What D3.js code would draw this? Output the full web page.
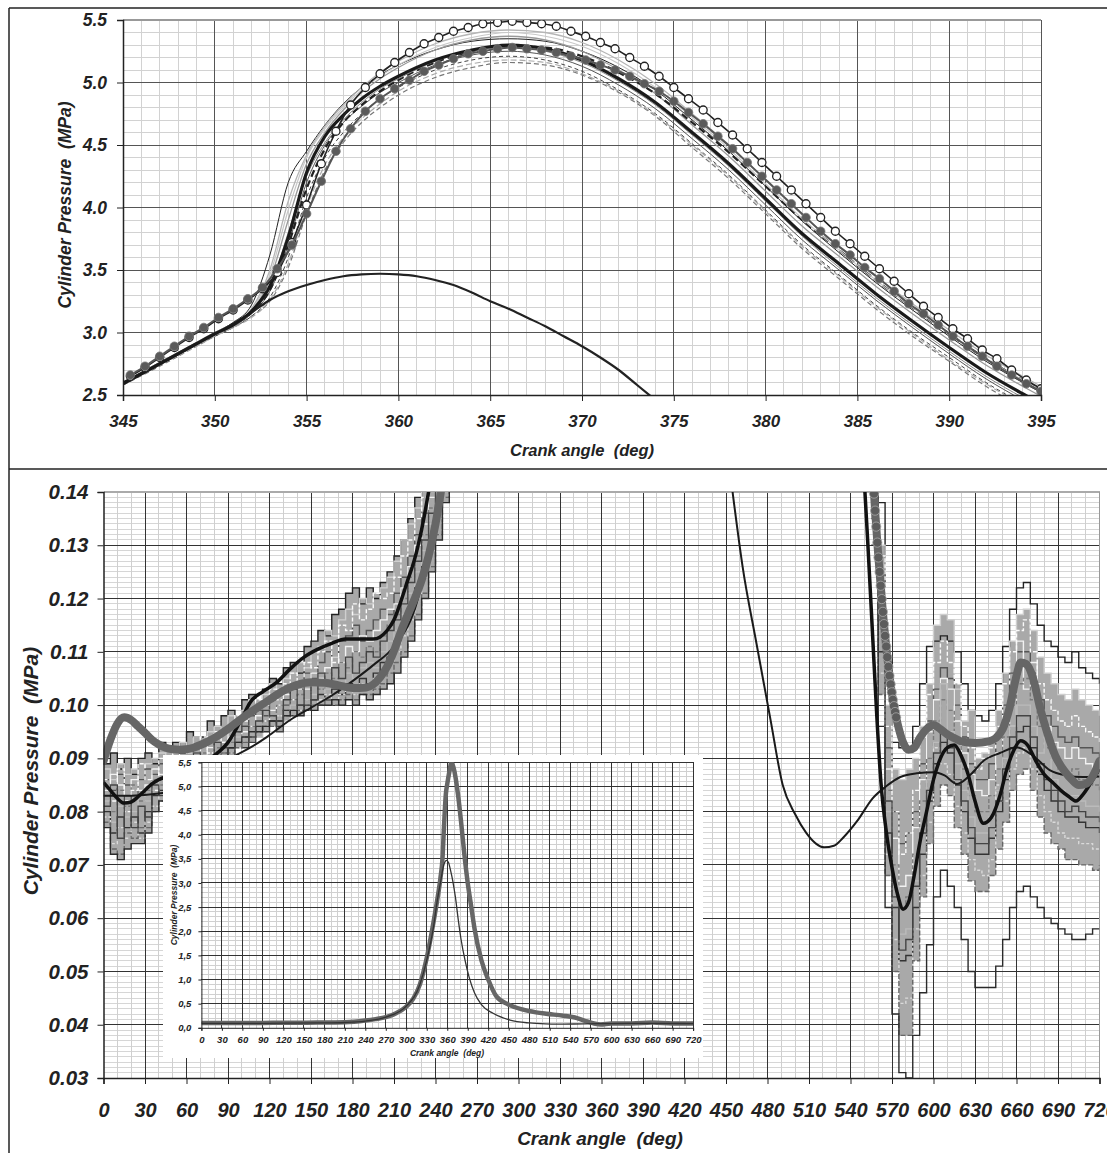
<!DOCTYPE html>
<html>
<head>
<meta charset="utf-8">
<script src="https://cdn.jsdelivr.net/npm/d3@7"></script>
<style>
  body { margin: 0; background: #fff; }
  svg text { font-family: "Liberation Sans", Arial, sans-serif; font-weight: bold; font-style: italic; fill: #222; white-space: pre; }
</style>
</head>
<body>
<svg id="chart" width="1107" height="1153"></svg>
<script>
// ---------- tick labels ----------
const topXTicks = [345, 350, 355, 360, 365, 370, 375, 380, 385, 390, 395];
const topYTicks = [2.5, 3.0, 3.5, 4.0, 4.5, 5.0, 5.5];
const lowXTicks = [0, 30, 60, 90, 120, 150, 180, 210, 240, 270, 300, 330, 360, 390, 420, 450, 480, 510, 540, 570, 600, 630, 660, 690, 720];
const lowYTicks = [0.03, 0.04, 0.05, 0.06, 0.07, 0.08, 0.09, 0.10, 0.11, 0.12, 0.13, 0.14];
const insetYTicks = [0, 0.5, 1.0, 1.5, 2.0, 2.5, 3.0, 3.5, 4.0, 4.5, 5.0, 5.5];

// ---------- top chart: combustion zoom (MPa) ----------
const topAngles = [345, 347, 349, 350, 351, 352, 353, 354, 355, 356, 357, 358, 359, 360, 362, 364, 366, 368, 370, 372, 374, 376, 378, 380, 382, 384, 386, 388, 390, 392, 394, 395];
const topMean = [2.59, 2.75, 2.91, 2.99, 3.06, 3.17, 3.37, 3.76, 4.28, 4.57, 4.74, 4.87, 4.97, 5.05, 5.18, 5.26, 5.30, 5.27, 5.18, 5.03, 4.84, 4.60, 4.35, 4.07, 3.79, 3.55, 3.31, 3.09, 2.88, 2.68, 2.51, 2.43];
const topCycles = [
  [2.60, 2.76, 2.92, 3.00, 3.08, 3.22, 3.62, 4.20, 4.45, 4.66, 4.83, 4.96, 5.06, 5.14, 5.26, 5.33, 5.35, 5.33, 5.25, 5.12, 4.94, 4.70, 4.45, 4.17, 3.89, 3.64, 3.40, 3.18, 2.97, 2.77, 2.60, 2.52],
  [2.60, 2.76, 2.92, 3.00, 3.07, 3.19, 3.50, 4.05, 4.42, 4.65, 4.82, 4.96, 5.08, 5.17, 5.31, 5.39, 5.42, 5.40, 5.32, 5.18, 4.99, 4.75, 4.50, 4.22, 3.94, 3.69, 3.45, 3.23, 3.02, 2.82, 2.65, 2.57],
  [2.58, 2.73, 2.89, 2.97, 3.04, 3.13, 3.25, 3.52, 3.95, 4.30, 4.52, 4.68, 4.80, 4.90, 5.04, 5.12, 5.16, 5.14, 5.06, 4.92, 4.73, 4.48, 4.23, 3.95, 3.67, 3.43, 3.19, 2.97, 2.77, 2.57, 2.40, 2.32],
  [2.59, 2.74, 2.90, 2.98, 3.05, 3.15, 3.33, 3.70, 4.20, 4.50, 4.68, 4.81, 4.92, 5.00, 5.14, 5.22, 5.25, 5.22, 5.13, 4.98, 4.79, 4.55, 4.30, 4.02, 3.74, 3.50, 3.26, 3.04, 2.83, 2.63, 2.46, 2.38],
  [2.60, 2.76, 2.91, 2.99, 3.06, 3.17, 3.42, 3.90, 4.35, 4.60, 4.78, 4.92, 5.03, 5.12, 5.26, 5.34, 5.37, 5.34, 5.25, 5.10, 4.91, 4.66, 4.41, 4.13, 3.85, 3.61, 3.37, 3.15, 2.94, 2.74, 2.57, 2.49],
  [2.58, 2.74, 2.90, 2.97, 3.04, 3.13, 3.28, 3.60, 4.08, 4.40, 4.60, 4.75, 4.87, 4.96, 5.10, 5.18, 5.21, 5.18, 5.09, 4.94, 4.75, 4.51, 4.26, 3.98, 3.70, 3.46, 3.22, 3.00, 2.80, 2.60, 2.43, 2.35],
  [2.59, 2.75, 2.91, 2.99, 3.06, 3.16, 3.34, 3.70, 4.15, 4.47, 4.68, 4.82, 4.93, 5.02, 5.16, 5.25, 5.29, 5.28, 5.21, 5.08, 4.91, 4.68, 4.44, 4.17, 3.90, 3.66, 3.42, 3.20, 2.99, 2.79, 2.62, 2.54],
  [2.60, 2.76, 2.92, 3.00, 3.07, 3.18, 3.46, 3.98, 4.40, 4.63, 4.80, 4.94, 5.05, 5.14, 5.28, 5.36, 5.40, 5.37, 5.29, 5.15, 4.96, 4.72, 4.47, 4.19, 3.91, 3.66, 3.42, 3.20, 2.99, 2.79, 2.62, 2.54],
  [2.59, 2.75, 2.90, 2.98, 3.05, 3.16, 3.36, 3.80, 4.25, 4.52, 4.70, 4.84, 4.95, 5.03, 5.17, 5.25, 5.28, 5.25, 5.16, 5.01, 4.82, 4.58, 4.33, 4.05, 3.77, 3.52, 3.28, 3.06, 2.85, 2.65, 2.48, 2.40],
  [2.58, 2.74, 2.89, 2.97, 3.04, 3.12, 3.26, 3.55, 4.00, 4.34, 4.56, 4.71, 4.83, 4.93, 5.07, 5.15, 5.18, 5.16, 5.07, 4.93, 4.74, 4.50, 4.25, 3.97, 3.69, 3.45, 3.21, 2.99, 2.78, 2.59, 2.42, 2.34]
];
const topMotorAngles = [345, 347, 349, 351, 352, 353, 354, 355, 356, 357, 358, 359, 360, 361, 362, 363, 364, 365, 366, 367, 368, 369, 370, 371, 372, 373, 374];
const topMotor = [2.60, 2.75, 2.91, 3.07, 3.16, 3.26, 3.33, 3.38, 3.42, 3.45, 3.465, 3.47, 3.465, 3.45, 3.42, 3.38, 3.32, 3.25, 3.19, 3.12, 3.05, 2.97, 2.89, 2.80, 2.70, 2.58, 2.46];
const markerAngles = [345.4, 346.2, 347, 347.8, 348.6, 349.4, 350.2, 351, 351.8, 352.6, 353.4, 354.2, 355, 355.8, 356.6, 357.4, 358.2, 359, 359.8, 360.6, 361.4, 362.2, 363, 363.8, 364.6, 365.4, 366.2, 367, 367.8, 368.6, 369.4, 370.2, 371, 371.8, 372.6, 373.4, 374.2, 375, 375.8, 376.6, 377.4, 378.2, 379, 379.8, 380.6, 381.4, 382.2, 383, 383.8, 384.6, 385.4, 386.2, 387, 387.8, 388.6, 389.4, 390.2, 391, 391.8, 392.6, 393.4, 394.2, 395];
const openP = [2.65, 2.72, 2.80, 2.88, 2.96, 3.03, 3.11, 3.18, 3.26, 3.35, 3.48, 3.72, 4.02, 4.35, 4.61, 4.82, 4.96, 5.07, 5.16, 5.24, 5.31, 5.36, 5.41, 5.44, 5.47, 5.48, 5.49, 5.48, 5.47, 5.45, 5.41, 5.37, 5.32, 5.27, 5.20, 5.13, 5.05, 4.96, 4.87, 4.78, 4.68, 4.58, 4.47, 4.36, 4.25, 4.14, 4.03, 3.92, 3.81, 3.71, 3.61, 3.51, 3.41, 3.31, 3.21, 3.12, 3.03, 2.95, 2.86, 2.79, 2.70, 2.62, 2.55];
const grayP = [2.66, 2.73, 2.81, 2.89, 2.97, 3.04, 3.12, 3.19, 3.27, 3.36, 3.51, 3.70, 3.95, 4.21, 4.45, 4.63, 4.77, 4.87, 4.95, 5.02, 5.09, 5.14, 5.19, 5.23, 5.25, 5.27, 5.28, 5.27, 5.26, 5.24, 5.21, 5.18, 5.14, 5.10, 5.05, 4.99, 4.93, 4.85, 4.76, 4.67, 4.57, 4.47, 4.36, 4.25, 4.14, 4.03, 3.92, 3.81, 3.71, 3.62, 3.52, 3.43, 3.33, 3.23, 3.15, 3.06, 2.97, 2.89, 2.81, 2.73, 2.66, 2.59, 2.53];

// ---------- bottom chart: gas exchange zoom ----------
// individual cycles, quantised to 1 kPa (values in kPa)
const cycAnglesL = [0, 5, 10, 15, 20, 25, 30, 35, 40, 45, 50, 55, 60, 65, 70, 75, 80, 85, 90, 95, 100, 105, 110, 115, 120, 125, 130, 135, 140, 145, 150, 155, 160, 165, 170, 175, 180, 185, 190, 195, 200, 205, 210, 215, 220, 225, 230, 235, 240, 245, 250];
const cyclesL = [
  [89, 91, 88, 90, 87, 90, 91, 89, 93, 92, 93, 91, 95, 94, 94, 97, 96, 98, 99, 97, 101, 102, 100, 103, 105, 104, 107, 108, 106, 111, 112, 114, 113, 117, 118, 121, 122, 119, 122, 120, 123, 125, 128, 131, 135, 139, 143, 148, 152, 158, 164],
  [88, 86, 89, 87, 88, 86, 89, 90, 91, 90, 92, 93, 91, 94, 93, 95, 96, 95, 98, 97, 99, 101, 100, 102, 104, 103, 105, 106, 108, 107, 110, 111, 114, 113, 116, 118, 117, 120, 119, 121, 122, 124, 127, 131, 134, 137, 141, 145, 150, 155, 161],
  [86, 84, 87, 85, 83, 86, 88, 87, 89, 90, 88, 91, 92, 90, 93, 92, 94, 95, 94, 97, 96, 98, 99, 98, 101, 102, 100, 104, 103, 106, 105, 108, 110, 109, 112, 113, 115, 112, 114, 116, 118, 117, 121, 124, 128, 132, 136, 141, 146, 152, 158],
  [84, 87, 85, 82, 86, 84, 85, 88, 87, 86, 89, 88, 90, 91, 89, 92, 91, 93, 94, 93, 95, 96, 98, 97, 99, 100, 102, 101, 104, 103, 106, 105, 107, 109, 108, 111, 110, 113, 112, 114, 116, 118, 119, 122, 126, 130, 134, 139, 144, 150, 156],
  [83, 80, 84, 81, 85, 82, 84, 86, 85, 88, 87, 89, 88, 90, 91, 90, 92, 91, 93, 95, 94, 96, 95, 97, 98, 100, 99, 101, 102, 101, 104, 103, 106, 105, 108, 107, 110, 109, 111, 110, 113, 115, 117, 120, 124, 128, 132, 137, 142, 148, 154],
  [82, 78, 81, 79, 80, 83, 82, 84, 86, 85, 86, 87, 89, 88, 90, 89, 91, 92, 91, 94, 93, 95, 94, 96, 97, 98, 97, 100, 99, 101, 102, 101, 103, 104, 103, 106, 105, 107, 108, 107, 110, 112, 114, 117, 121, 125, 129, 134, 140, 146, 152],
  [80, 76, 79, 77, 79, 76, 80, 83, 84, 84, 85, 87, 86, 88, 87, 89, 90, 89, 92, 93, 92, 94, 96, 95, 97, 96, 99, 98, 100, 99, 101, 102, 101, 103, 102, 104, 103, 105, 104, 106, 108, 109, 112, 115, 118, 122, 126, 131, 137, 143, 150],
  [79, 74, 77, 75, 78, 75, 78, 81, 83, 83, 84, 85, 86, 87, 88, 88, 89, 90, 91, 92, 93, 93, 95, 96, 96, 98, 97, 99, 99, 100, 100, 101, 102, 101, 102, 103, 102, 104, 103, 105, 106, 108, 110, 113, 116, 120, 124, 129, 135, 141, 148],
  [78, 73, 72, 76, 75, 77, 77, 80, 82, 83, 85, 86, 86, 87, 88, 89, 89, 91, 91, 92, 93, 94, 95, 96, 96, 97, 98, 98, 99, 99, 100, 100, 101, 100, 101, 102, 101, 102, 102, 103, 104, 106, 108, 110, 113, 117, 121, 126, 132, 139, 146],
  [77, 72, 71, 73, 74, 74, 76, 80, 82, 84, 84, 85, 87, 87, 88, 89, 90, 90, 92, 93, 94, 95, 95, 96, 97, 97, 98, 99, 98, 100, 99, 100, 100, 101, 100, 101, 100, 102, 101, 102, 103, 104, 106, 109, 112, 116, 120, 125, 131, 138, 145],
  [86, 82, 88, 80, 84, 89, 86, 84, 90, 88, 91, 87, 92, 89, 94, 91, 95, 93, 96, 98, 97, 99, 101, 100, 103, 101, 104, 106, 103, 108, 107, 110, 112, 108, 115, 114, 119, 116, 118, 121, 120, 121, 124, 128, 131, 135, 139, 144, 149, 154, 160],
  [81, 85, 75, 83, 77, 81, 79, 85, 83, 87, 86, 84, 88, 91, 86, 90, 93, 92, 90, 95, 96, 93, 97, 99, 98, 95, 101, 103, 100, 104, 101, 106, 104, 107, 105, 109, 106, 108, 110, 109, 112, 114, 116, 119, 123, 127, 131, 136, 141, 147, 153]
];
const cycAnglesR = [555, 560, 565, 570, 575, 580, 585, 590, 595, 600, 605, 610, 615, 620, 625, 630, 635, 640, 645, 650, 655, 660, 665, 670, 675, 680, 685, 690, 695, 700, 705, 710, 715, 720];
const cyclesR = [
  [160, 138, 108, 93, 92, 92, 96, 104, 111, 112, 113, 112, 110, 104, 99, 98, 97, 99, 104, 111, 118, 122, 123, 119, 115, 112, 111, 109, 108, 110, 107, 106, 105, 104],
  [155, 130, 100, 88, 86, 88, 90, 96, 104, 115, 117, 116, 103, 97, 99, 90, 91, 93, 99, 106, 112, 117, 118, 114, 109, 106, 104, 102, 101, 103, 101, 100, 99, 98],
  [150, 125, 92, 80, 74, 76, 80, 89, 97, 103, 107, 105, 100, 94, 89, 86, 86, 89, 94, 100, 106, 110, 110, 106, 101, 98, 96, 94, 93, 94, 92, 92, 91, 90],
  [148, 122, 88, 75, 66, 68, 77, 86, 95, 101, 105, 103, 97, 91, 87, 84, 83, 86, 91, 98, 96, 112, 103, 108, 99, 96, 93, 92, 90, 92, 90, 89, 88, 88],
  [145, 118, 84, 70, 62, 64, 72, 82, 90, 97, 101, 99, 93, 88, 83, 80, 80, 83, 88, 94, 100, 104, 105, 101, 96, 92, 90, 88, 87, 88, 86, 86, 85, 84],
  [142, 114, 80, 66, 57, 58, 67, 77, 86, 93, 104, 95, 89, 84, 79, 76, 76, 79, 84, 90, 96, 100, 100, 96, 91, 95, 86, 84, 83, 83, 82, 81, 81, 80],
  [140, 110, 76, 62, 52, 53, 62, 72, 82, 89, 93, 91, 85, 80, 75, 72, 72, 75, 80, 86, 92, 95, 96, 92, 87, 84, 82, 80, 79, 79, 78, 77, 77, 76],
  [138, 106, 72, 56, 44, 45, 58, 68, 78, 92, 89, 87, 81, 76, 71, 69, 68, 71, 85, 82, 88, 91, 92, 88, 83, 80, 78, 76, 75, 75, 74, 74, 73, 73],
  [135, 102, 68, 50, 38, 38, 52, 64, 74, 81, 85, 83, 77, 72, 67, 65, 65, 68, 73, 78, 84, 87, 88, 84, 79, 76, 74, 73, 71, 71, 70, 70, 69, 70],
  [130, 96, 62, 42, 31, 30, 38, 46, 55, 64, 69, 66, 62, 56, 50, 47, 47, 47, 51, 56, 62, 65, 66, 64, 62, 60, 59, 58, 57, 56, 56, 57, 58, 58],
  [152, 128, 96, 80, 72, 76, 84, 94, 102, 108, 112, 108, 104, 96, 92, 88, 90, 92, 96, 104, 110, 114, 116, 110, 104, 101, 99, 97, 96, 98, 96, 95, 94, 93],
  [146, 116, 82, 64, 54, 56, 66, 76, 84, 91, 95, 92, 86, 82, 77, 74, 74, 77, 82, 88, 94, 98, 98, 94, 89, 86, 84, 82, 80, 81, 80, 79, 79, 78]
];
// measured cycle with markers (MPa)
const measAnglesL = [0, 5, 10, 15, 20, 25, 30, 35, 40, 45, 50, 55, 60, 65, 70, 75, 80, 90, 100, 110, 120, 130, 140, 150, 160, 170, 180, 190, 200, 205, 210, 215, 220, 225, 230, 235, 240, 245, 250];
const measL = [0.0895, 0.0935, 0.0965, 0.0977, 0.0972, 0.0960, 0.0948, 0.0935, 0.0926, 0.0920, 0.0917, 0.0916, 0.0917, 0.0920, 0.0925, 0.0931, 0.0938, 0.0955, 0.0975, 0.0993, 0.1010, 0.1027, 0.1038, 0.1043, 0.1042, 0.1037, 0.1032, 0.1033, 0.1052, 0.1072, 0.1102, 0.1138, 0.1170, 0.1200, 0.1235, 0.1280, 0.1340, 0.1420, 0.1520];
const measAnglesR = [554.6, 555.4, 556.2, 557.0, 557.8, 558.6, 559.4, 560.2, 561.0, 561.8, 562.6, 563.4, 564.2, 565.0, 565.8, 566.6, 567.4, 568.2, 569.0, 569.8, 570.6, 571.4, 572.2, 573.0, 575, 578, 582, 586, 590, 595, 600, 605, 610, 615, 620, 630, 640, 645, 650, 655, 660, 663, 667, 672, 677, 682, 688, 695, 700, 705, 710, 715, 720];
const measR = [0.1500, 0.1465, 0.1430, 0.1397, 0.1365, 0.1335, 0.1305, 0.1277, 0.1250, 0.1224, 0.1199, 0.1175, 0.1152, 0.1130, 0.1110, 0.1090, 0.1072, 0.1055, 0.1039, 0.1024, 0.1010, 0.0998, 0.0987, 0.0977, 0.0955, 0.0930, 0.0916, 0.0920, 0.0938, 0.0955, 0.0962, 0.0955, 0.0945, 0.0938, 0.0932, 0.0929, 0.0932, 0.0938, 0.0955, 0.0995, 0.1055, 0.1080, 0.1077, 0.1050, 0.0995, 0.0950, 0.0905, 0.0875, 0.0860, 0.0850, 0.0852, 0.0866, 0.0895];
// mean cycle (MPa)
const meanAnglesL = [0, 5, 10, 15, 20, 25, 30, 35, 40, 45, 50, 60, 70, 80, 90, 100, 106, 115, 125, 135, 145, 155, 165, 175, 185, 195, 200, 205, 210, 215, 220, 225, 230, 235, 240];
const meanL = [0.0855, 0.0840, 0.0825, 0.0816, 0.0818, 0.0828, 0.0840, 0.0852, 0.0860, 0.0865, 0.0868, 0.0876, 0.0888, 0.0905, 0.0930, 0.0975, 0.1005, 0.1025, 0.1042, 0.1068, 0.1090, 0.1105, 0.1116, 0.1124, 0.1124, 0.1124, 0.1128, 0.1140, 0.1160, 0.1195, 0.1235, 0.1275, 0.1330, 0.1400, 0.1480];
const meanAnglesR = [547, 550, 553, 556, 559, 562, 566, 570, 574, 578, 582, 586, 590, 595, 600, 605, 610, 615, 620, 625, 630, 636, 642, 648, 653, 658, 663, 668, 674, 680, 686, 692, 698, 703, 708, 714, 720];
const meanR = [0.1520, 0.1420, 0.1280, 0.1130, 0.0980, 0.0855, 0.0760, 0.0695, 0.0645, 0.0617, 0.0630, 0.0680, 0.0740, 0.0800, 0.0860, 0.0900, 0.0920, 0.0925, 0.0905, 0.0870, 0.0820, 0.0778, 0.0790, 0.0830, 0.0880, 0.0915, 0.0933, 0.0925, 0.0895, 0.0870, 0.0855, 0.0840, 0.0828, 0.0820, 0.0832, 0.0855, 0.0880];
// motored cycle (MPa)
const motorAnglesL = [0, 20, 40, 60, 80, 94, 106, 118, 135, 150, 165, 180, 195, 210, 225, 235, 245, 255];
const motorL = [0.0830, 0.0830, 0.0834, 0.0845, 0.0875, 0.0903, 0.0920, 0.0940, 0.0972, 0.0995, 0.1018, 0.1045, 0.1075, 0.1110, 0.1180, 0.1280, 0.1400, 0.1530];
const motorAnglesR = [450, 455, 462, 472, 482, 491, 500, 508, 515, 521, 528, 535, 545, 556, 566, 576, 588, 600, 608, 617, 627, 636, 648, 660, 672, 684, 696, 708, 720];
const motorR = [0.1500, 0.1395, 0.1260, 0.1116, 0.0975, 0.0850, 0.0795, 0.0760, 0.0740, 0.0733, 0.0736, 0.0752, 0.0783, 0.0825, 0.0848, 0.0865, 0.0872, 0.0874, 0.0868, 0.0852, 0.0870, 0.0895, 0.0910, 0.0921, 0.0905, 0.0878, 0.0868, 0.0865, 0.0866];

// ---------- inset: full cycle (MPa) ----------
const insetMeasAngles = [0, 30, 60, 90, 120, 150, 180, 210, 240, 255, 270, 285, 300, 310, 320, 330, 340, 345, 350, 353, 355, 358, 360, 363, 366, 369, 372, 376, 380, 385, 390, 395, 400, 410, 420, 432, 450, 470, 490, 505, 530, 550, 565, 575, 585, 600, 630, 660, 690, 720];
const insetMeas = [0.10, 0.10, 0.10, 0.10, 0.105, 0.105, 0.11, 0.115, 0.15, 0.18, 0.22, 0.30, 0.44, 0.60, 0.90, 1.45, 2.20, 2.62, 3.10, 3.50, 4.10, 4.85, 5.05, 5.30, 5.49, 5.40, 5.20, 4.80, 4.30, 3.60, 3.00, 2.52, 2.05, 1.40, 1.00, 0.65, 0.48, 0.38, 0.32, 0.29, 0.25, 0.20, 0.13, 0.09, 0.07, 0.09, 0.09, 0.11, 0.09, 0.09];
const insetMotorAngles = [0, 60, 120, 180, 210, 240, 270, 300, 320, 330, 340, 345, 350, 355, 359, 362, 365, 368, 372, 376, 380, 386, 392, 400, 410, 427, 452, 480, 504, 520, 560, 600, 660, 720];
const insetMotor = [0.09, 0.09, 0.095, 0.10, 0.11, 0.14, 0.22, 0.45, 0.90, 1.40, 2.10, 2.60, 3.00, 3.38, 3.47, 3.42, 3.25, 3.05, 2.70, 2.25, 1.85, 1.40, 1.05, 0.72, 0.48, 0.30, 0.16, 0.10, 0.08, 0.075, 0.082, 0.087, 0.092, 0.087];

// ---------- drawing ----------
const svg = d3.select("#chart");
const defs = svg.append("defs");
const zip = (xs, ys, k = 1) => xs.map((a, i) => [a, ys[i] * k]);

function addClip(id, x, y) {
  const [x0, x1] = x.range(), [y0, y1] = y.range();
  defs.append("clipPath").attr("id", id).append("rect")
    .attr("x", Math.min(x0, x1)).attr("y", Math.min(y0, y1))
    .attr("width", Math.abs(x1 - x0)).attr("height", Math.abs(y1 - y0));
}

function vLines(g, x, y, vals, color, w) {
  const [y0, y1] = y.range();
  g.append("g").attr("shape-rendering", "crispEdges").selectAll("line").data(vals).join("line")
    .attr("x1", d => x(d)).attr("x2", d => x(d)).attr("y1", y0).attr("y2", y1)
    .attr("stroke", color).attr("stroke-width", w);
}
function hLines(g, x, y, vals, color, w) {
  const [x0, x1] = x.range();
  g.append("g").attr("shape-rendering", "crispEdges").selectAll("line").data(vals).join("line")
    .attr("y1", d => y(d)).attr("y2", d => y(d)).attr("x1", x0).attr("x2", x1)
    .attr("stroke", color).attr("stroke-width", w);
}

function styleAxis(g, size) {
  g.attr("font-family", null).attr("font-size", size);
  g.select(".domain").attr("stroke", "#222").attr("stroke-width", 1.5);
  g.selectAll(".tick line").attr("stroke", "#222");
  g.selectAll(".tick text").attr("fill", "#222");
}

// frame
svg.append("line").attr("x1", 9).attr("x2", 1107).attr("y1", 8).attr("y2", 8).attr("stroke", "#222").attr("stroke-width", 1.5);
svg.append("line").attr("x1", 9).attr("x2", 1107).attr("y1", 469).attr("y2", 469).attr("stroke", "#222").attr("stroke-width", 1.5);
svg.append("line").attr("x1", 9).attr("x2", 9).attr("y1", 8).attr("y2", 1153).attr("stroke", "#222").attr("stroke-width", 1.5);

// ===== top chart =====
const xTop = d3.scaleLinear().domain([345, 395]).range([123, 1041]);
const yTop = d3.scaleLinear().domain([2.5, 5.5]).range([395, 20]);
addClip("clipTop", xTop, yTop);
const gTop = svg.append("g");
vLines(gTop, xTop, yTop, d3.range(346, 395, 1), "#d2d2d2", 1);
hLines(gTop, xTop, yTop, d3.range(26, 55, 1).map(d => d / 10), "#d2d2d2", 1);
vLines(gTop, xTop, yTop, topXTicks.slice(1), "#555", 1);
hLines(gTop, xTop, yTop, topYTicks.slice(1, -1), "#555", 1);
hLines(gTop, xTop, yTop, [5.5], "#999", 2);

const lineTop = d3.line().x(d => xTop(d[0])).y(d => yTop(d[1])).curve(d3.curveMonotoneX);
const topCycleStyle = [
  { c: "#222", w: 1, dash: null }, { c: "#b5b5b5", w: 1.3, dash: null }, { c: "#777", w: 1.2, dash: "5,3" },
  { c: "#555", w: 1, dash: null }, { c: "#999", w: 1.3, dash: null }, { c: "#444", w: 1, dash: "4,3" },
  { c: "#222", w: 2.2, dash: "7,4" }, { c: "#c8c8c8", w: 1.2, dash: null }, { c: "#888", w: 1, dash: null },
  { c: "#aaa", w: 1.2, dash: "6,3" }
];
const pTop = gTop.append("g").attr("clip-path", "url(#clipTop)");
topCycles.forEach((vals, i) => {
  const s = topCycleStyle[i];
  pTop.append("path").attr("d", lineTop(zip(topAngles, vals))).attr("fill", "none")
    .attr("stroke", s.c).attr("stroke-width", s.w).attr("stroke-dasharray", s.dash);
});
pTop.append("path").attr("d", lineTop(zip(topMotorAngles, topMotor))).attr("fill", "none").attr("stroke", "#222").attr("stroke-width", 2.2);
pTop.append("path").attr("d", lineTop(zip(topAngles, topMean))).attr("fill", "none").attr("stroke", "#1a1a1a").attr("stroke-width", 3.2);
pTop.append("path").attr("d", lineTop(zip(markerAngles, openP))).attr("fill", "none").attr("stroke", "#222").attr("stroke-width", 1.6);
pTop.append("g").selectAll("circle").data(zip(markerAngles, openP)).join("circle")
  .attr("cx", d => xTop(d[0])).attr("cy", d => yTop(d[1])).attr("r", 4)
  .attr("fill", "#fff").attr("stroke", "#222").attr("stroke-width", 1.3);
pTop.append("path").attr("d", lineTop(zip(markerAngles, grayP))).attr("fill", "none").attr("stroke", "#555").attr("stroke-width", 2);
pTop.append("g").selectAll("circle").data(zip(markerAngles, grayP)).join("circle")
  .attr("cx", d => xTop(d[0])).attr("cy", d => yTop(d[1])).attr("r", 4.3)
  .attr("fill", "#5a5a5a").attr("stroke", "#777").attr("stroke-width", 0.8);

const axTopX = svg.append("g").attr("transform", "translate(0,395)")
  .call(d3.axisBottom(xTop).tickValues(topXTicks).tickSize(6).tickPadding(14).tickFormat(d3.format("d")));
styleAxis(axTopX, 17);
const axTopY = svg.append("g").attr("transform", "translate(123,0)")
  .call(d3.axisLeft(yTop).tickValues(topYTicks).tickSize(6).tickPadding(10).tickFormat(d3.format(".1f")));
styleAxis(axTopY, 17.5);
svg.append("text").attr("x", 582).attr("y", 456).attr("text-anchor", "middle").attr("font-size", 16.5).text("Crank angle  (deg)");
svg.append("text").attr("transform", "translate(71,205) rotate(-90)").attr("text-anchor", "middle").attr("font-size", 17.5).text("Cylinder Pressure  (MPa)");

// ===== bottom chart =====
const xLow = d3.scaleLinear().domain([0, 720]).range([103.5, 1099.5]);
const yLow = d3.scaleLinear().domain([0.03, 0.14]).range([1078, 492]);
addClip("clipLow", xLow, yLow);
const gLow = svg.append("g");
hLines(gLow, xLow, yLow, d3.range(31, 140, 1).map(d => d / 1000), "#d6d6d6", 1);
vLines(gLow, xLow, yLow, d3.range(10, 720, 10), "#cfcfcf", 1);
vLines(gLow, xLow, yLow, lowXTicks.slice(1, -1), "#333", 1);
hLines(gLow, xLow, yLow, lowYTicks.slice(1, -1), "#333", 1);
hLines(gLow, xLow, yLow, [0.14], "#aaa", 2);
vLines(gLow, xLow, yLow, [720], "#999", 1.5);

const pLow = gLow.append("g").attr("clip-path", "url(#clipLow)");
const stepLow = d3.line().x(d => xLow(d[0])).y(d => yLow(d[1])).curve(d3.curveStepAfter);
const smoothLow = d3.line().x(d => xLow(d[0])).y(d => yLow(d[1])).curve(d3.curveMonotoneX);
const bandArea = d3.area().x(d => xLow(d.a)).y0(d => yLow(d.lo)).y1(d => yLow(d.hi)).curve(d3.curveStepAfter);

// spread of the cycles (outlier cycles 0 and 9 left out on the exhaust side)
function spread(angles, cycles, skip) {
  const used = cycles.filter((c, i) => !skip.includes(i));
  return angles.map((a, j) => ({ a, lo: d3.min(used, c => c[j]) / 1000, hi: d3.max(used, c => c[j]) / 1000 }));
}
pLow.append("path").attr("d", bandArea(spread(cycAnglesL, cyclesL, []))).attr("fill", "#a9a9a9");
pLow.append("path").attr("d", bandArea(spread(cycAnglesR, cyclesR, [0, 9]))).attr("fill", "#a9a9a9");

const cycStyle = [
  { c: "#222", dash: null }, { c: "#cfcfcf", dash: null }, { c: "#555", dash: null }, { c: "#f2f2f2", dash: null },
  { c: "#7a7a7a", dash: "4,2" }, { c: "#bbbbbb", dash: null }, { c: "#333", dash: null }, { c: "#dadada", dash: "3,2" },
  { c: "#666", dash: "5,2" }, { c: "#2a2a2a", dash: null }, { c: "#fafafa", dash: "4,2" }, { c: "#444", dash: null }
];
[[cycAnglesL, cyclesL], [cycAnglesR, cyclesR]].forEach(([angles, cycles]) => {
  cycles.forEach((vals, i) => {
    const s = cycStyle[i];
    pLow.append("path").attr("d", stepLow(zip(angles, vals, 0.001))).attr("fill", "none")
      .attr("stroke", s.c).attr("stroke-width", 1.4).attr("stroke-dasharray", s.dash);
  });
});
[[motorAnglesL, motorL], [motorAnglesR, motorR]].forEach(([a, v]) => {
  pLow.append("path").attr("d", smoothLow(zip(a, v))).attr("fill", "none").attr("stroke", "#1a1a1a").attr("stroke-width", 2);
});
[[meanAnglesL, meanL], [meanAnglesR, meanR]].forEach(([a, v]) => {
  pLow.append("path").attr("d", smoothLow(zip(a, v))).attr("fill", "none").attr("stroke", "#111").attr("stroke-width", 3.5);
});
[[measAnglesL, measL], [measAnglesR, measR]].forEach(([a, v]) => {
  pLow.append("path").attr("d", smoothLow(zip(a, v))).attr("fill", "none").attr("stroke", "#666")
    .attr("stroke-width", 8).attr("stroke-linecap", "round");
});
pLow.append("g").selectAll("circle").data(zip(measAnglesR.slice(0, 24), measR.slice(0, 24))).join("circle")
  .attr("cx", d => xLow(d[0])).attr("cy", d => yLow(d[1])).attr("r", 4.6)
  .attr("fill", "#5c5c5c").attr("stroke", "#aaa").attr("stroke-width", 0.8);

const axLowX = svg.append("g").attr("transform", "translate(0,1078)")
  .call(d3.axisBottom(xLow).tickValues(lowXTicks).tickSize(6).tickPadding(19).tickFormat(d3.format("d")));
styleAxis(axLowX, 20);
const axLowY = svg.append("g").attr("transform", "translate(103.5,0)")
  .call(d3.axisLeft(yLow).tickValues(lowYTicks).tickSize(6).tickPadding(9).tickFormat(d3.format(".2f")));
styleAxis(axLowY, 20.5);
svg.append("text").attr("x", 600).attr("y", 1145).attr("text-anchor", "middle").attr("font-size", 19).text("Crank angle  (deg)");
svg.append("text").attr("transform", "translate(38,771) rotate(-90)").attr("text-anchor", "middle").attr("font-size", 21).text("Cylinder Pressure  (MPa)");

// ===== inset =====
svg.append("rect").attr("x", 163).attr("y", 755).attr("width", 540).attr("height", 303).attr("fill", "#fff");
const xIn = d3.scaleLinear().domain([0, 720]).range([201.4, 693.1]);
const yIn = d3.scaleLinear().domain([0, 5.5]).range([1027.8, 762.3]);
addClip("clipIn", xIn, yIn);
const gIn = svg.append("g");
vLines(gIn, xIn, yIn, d3.range(10, 720, 10), "#d0d0d0", 1);
hLines(gIn, xIn, yIn, d3.range(1, 55, 1).map(d => d / 10), "#d0d0d0", 1);
vLines(gIn, xIn, yIn, lowXTicks.slice(1), "#333", 1);
hLines(gIn, xIn, yIn, insetYTicks.slice(1), "#333", 1);
const pIn = gIn.append("g").attr("clip-path", "url(#clipIn)");
const lineIn = d3.line().x(d => xIn(d[0])).y(d => yIn(d[1])).curve(d3.curveMonotoneX);
pIn.append("path").attr("d", lineIn(zip(insetMeasAngles, insetMeas))).attr("fill", "none").attr("stroke", "#666").attr("stroke-width", 4.5);
pIn.append("path").attr("d", lineIn(zip(insetMotorAngles, insetMotor))).attr("fill", "none").attr("stroke", "#333").attr("stroke-width", 1.3);
const commaFmt = d3.formatLocale({ decimal: ",", thousands: ".", grouping: [3], currency: ["", ""] }).format(".1f");
const axInX = svg.append("g").attr("transform", "translate(0,1027.8)")
  .call(d3.axisBottom(xIn).tickValues(lowXTicks).tickSize(3).tickPadding(5).tickFormat(d3.format("d")));
styleAxis(axInX, 9.5);
axInX.select(".domain").attr("stroke-width", 1);
const axInY = svg.append("g").attr("transform", "translate(201.4,0)")
  .call(d3.axisLeft(yIn).tickValues(insetYTicks).tickSize(3).tickPadding(7).tickFormat(commaFmt));
styleAxis(axInY, 9.5);
axInY.select(".domain").attr("stroke-width", 1);
svg.append("text").attr("x", 447).attr("y", 1056).attr("text-anchor", "middle").attr("font-size", 8.5).text("Crank angle  (deg)");
svg.append("text").attr("transform", "translate(177,895) rotate(-90)").attr("text-anchor", "middle").attr("font-size", 8.5).text("Cylinder Pressure  (MPa)");
</script>
</body>
</html>
